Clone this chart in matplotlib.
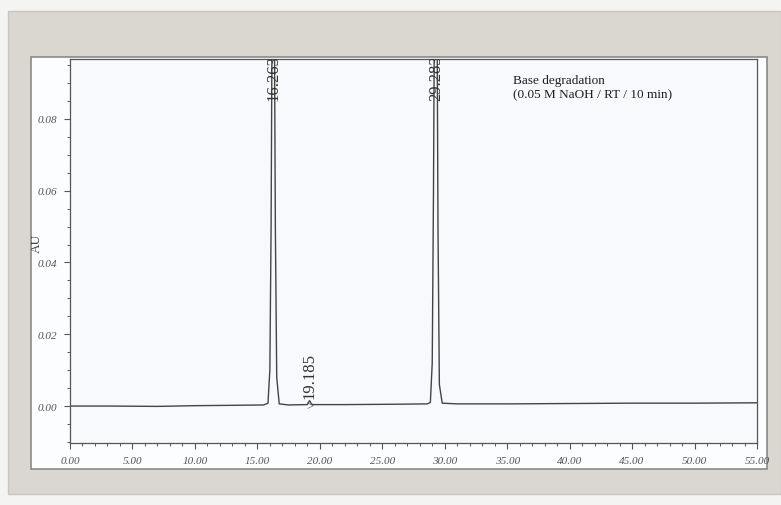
import matplotlib.pyplot as plt
from matplotlib.patches import Rectangle
from matplotlib.ticker import MultipleLocator, FormatStrFormatter

# Chromatogram trace (time in min, absorbance in AU)
time_min = [0.0, 3.0, 7.0, 10.0, 13.0, 15.5, 15.85, 16.0, 16.1, 16.18, 16.26, 16.36, 16.44, 16.55, 16.75,
            17.5, 19.0, 19.1, 19.185, 19.27, 19.4, 22.0, 26.0, 28.6, 28.85, 29.0, 29.1, 29.18, 29.28,
            29.38, 29.46, 29.57, 29.8, 31.0, 35.0, 40.0, 45.0, 50.0, 55.0]
absorbance = [0.0, 0.0, -0.0001, 0.0001, 0.0002, 0.0003, 0.0008, 0.01, 0.05, 0.11, 0.125, 0.11, 0.05, 0.008, 0.0006,
              0.0003, 0.0004, 0.0011, 0.0015, 0.0009, 0.0004, 0.0004, 0.0005, 0.0006, 0.001, 0.012, 0.06, 0.115, 0.13,
              0.115, 0.05, 0.006, 0.0008, 0.0006, 0.0006, 0.0007, 0.0008, 0.0008, 0.0009]

peak_times = [16.263, 19.185, 29.283]
peak_labels = ['16.263', '19.185', '29.283']
label_y = [0.0852, 0.0022, 0.0852]

xticks = [0, 5, 10, 15, 20, 25, 30, 35, 40, 45, 50, 55]

fig = plt.figure(figsize=(7.81, 5.06), dpi=100)
fig.patch.set_facecolor('#f4f4f2')

# scanned page frame and inner white panel
fig.patches.append(Rectangle((8 / 781, 1 - 495 / 506), 773 / 781, 483 / 506, transform=fig.transFigure,
                             facecolor='#d9d7cf', edgecolor='#c8c6be', lw=1, zorder=-10))
fig.patches.append(Rectangle((31 / 781, 1 - 470 / 506), 736 / 781, 412 / 506, transform=fig.transFigure,
                             facecolor='#fcfdfe', edgecolor='#8a8a8a', lw=1.2, zorder=-9))

ax = fig.add_axes([70 / 781, 1 - 444 / 506, 687 / 781, 384 / 506])
ax.set_facecolor('#f7f9fc')

ax.plot(time_min, absorbance, color='#444444', lw=1.0)

for t, lab, y in zip(peak_times, peak_labels, label_y):
    ax.text(t, y, lab, rotation=90, ha='center', va='bottom', fontsize=12,
            family='Liberation Serif', color='#333333', clip_on=True)
ax.text(19.2, 0.0, '>', fontsize=9, family='Liberation Serif', color='#444444', va='center', ha='center')

ax.text(0.645, 0.96, 'Base degradation\n(0.05 M NaOH / RT / 10 min)', transform=ax.transAxes,
        ha='left', va='top', fontsize=9.5, family='Liberation Serif', color='#1e1e1e', linespacing=1.2)

ax.set_xlim(0, 55)
ax.set_ylim(-0.0103, 0.0967)
ax.set_xticks(xticks)
ax.xaxis.set_minor_locator(MultipleLocator(1))
ax.xaxis.set_major_formatter(FormatStrFormatter('%.2f'))
ax.yaxis.set_major_locator(MultipleLocator(0.02))
ax.yaxis.set_minor_locator(MultipleLocator(0.005))
ax.yaxis.set_major_formatter(FormatStrFormatter('%.2f'))
fig.text(37 / 781, 1 - 243 / 506, 'AU', rotation=90, ha='center', va='center',
         family='Liberation Serif', fontsize=9.5, color='#444444')

for lab in ax.get_xticklabels() + ax.get_yticklabels():
    lab.set_family('Liberation Serif')
    lab.set_fontsize(8)
    lab.set_color('#555555')
    lab.set_style('italic')
ax.tick_params(axis='both', which='major', length=4, width=0.8, color='#555555', pad=5)
ax.tick_params(axis='both', which='minor', length=2.5, width=0.7, color='#555555')

for side in ['left', 'bottom', 'top', 'right']:
    ax.spines[side].set_color('#555555')
    ax.spines[side].set_linewidth(0.9)

plt.savefig('out.png', dpi=100, facecolor=fig.get_facecolor())
